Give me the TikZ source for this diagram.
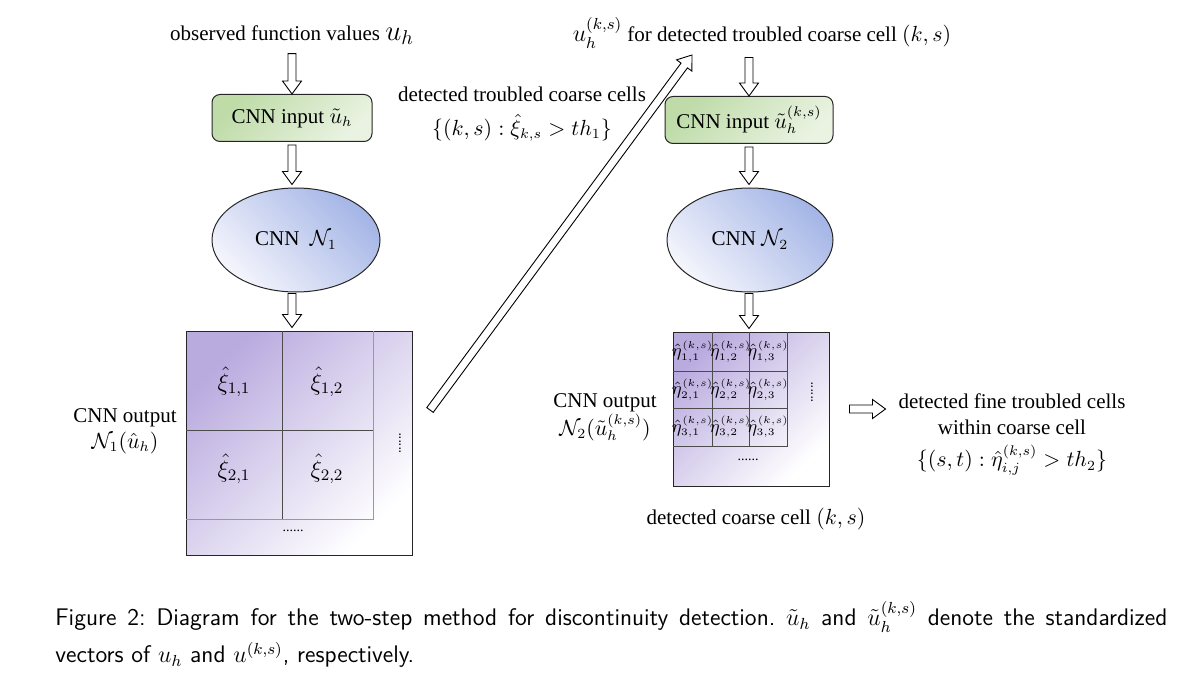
\documentclass[tikz,border=0pt]{standalone}
\usepackage{amsmath,amssymb}
\usepackage{fontspec}
\setmainfont{Liberation Serif}
\usepackage{xcolor}
\usepackage{tikz}
\usetikzlibrary{shapes.geometric, arrows.meta, positioning, calc}

\definecolor{boxgreen}{RGB}{190,219,168}
\definecolor{boxgreenl}{RGB}{234,243,226}
\definecolor{netblue}{RGB}{164,181,230}
\definecolor{netbluel}{RGB}{244,245,252}
\definecolor{outpurple}{RGB}{186,171,223}

\begin{document}
\begin{tikzpicture}[
  x=0.5pt, y=-0.5pt,
  font=\fontsize{10.5}{13}\selectfont,
  inbox/.style={rectangle, rounded corners=4pt, draw=black!85, line width=0.5pt,
                top color=boxgreen, bottom color=boxgreenl, shading angle=45,
                minimum height=23.5pt},
  netell/.style={ellipse, draw=black!85, line width=0.5pt,
                 top color=netblue, bottom color=netbluel, shading angle=-45,
                 minimum height=52pt},
  outsq/.style={rectangle, draw=black!85, line width=0.5pt,
                top color=outpurple, bottom color=white, shading angle=45, inner sep=0pt},
  gridline/.style={draw=black!70, line width=0.4pt},
  softline/.style={draw=black!40, line width=0.4pt},
  cell/.style={inner sep=0pt},
  dots/.style={font=\scriptsize, inner sep=0pt},
  % hollow block arrow drawn as one outline
  hollow/.style={draw=black, fill=white, line width=0.45pt, line join=miter,
    to path={let \p1=(\tikztostart), \p2=(\tikztotarget),
                 \n1={atan2(\y2-\y1,\x2-\x1)}, \n2={veclen(\x2-\x1,\y2-\y1)} in
      ($(\p1)+(\n1+90:2pt)$) -- ($(\p1)+(\n1:\n2-6.5pt)+(\n1+90:2pt)$)
      -- ($(\p1)+(\n1:\n2-6.5pt)+(\n1+90:4.75pt)$) -- (\p2)
      -- ($(\p1)+(\n1:\n2-6.5pt)+(\n1-90:4.75pt)$)
      -- ($(\p1)+(\n1:\n2-6.5pt)+(\n1-90:2pt)$) -- ($(\p1)+(\n1-90:2pt)$) -- cycle}}
]
  \useasboundingbox (0,0) rectangle (1190,674);

  % first step
  \node (obs) at (292,35) {observed function values {\Large$u_h$}};
  \node[inbox, minimum width=80pt] (in1) at (292,118) {CNN input $\tilde{u}_h$};
  \node[netell, minimum width=84pt] (net1) at (296,240) {CNN\ \ $\mathcal{N}_1$};
  \node[outsq, minimum width=113pt, minimum height=112pt] (out1) at (299,443) {};
  \draw[gridline] (282,331) -- (282,519);
  \draw[gridline] (186,430) -- (373,430);
  \draw[softline] (373,331) -- (373,519) -- (186,519);
  \node[cell, font=\large] (xi11) at (234,382) {$\hat{\xi}_{1,1}$};
  \node[cell, font=\large] (xi12) at (327,382) {$\hat{\xi}_{1,2}$};
  \node[cell, font=\large] (xi21) at (234,469) {$\hat{\xi}_{2,1}$};
  \node[cell, font=\large] (xi22) at (327,469) {$\hat{\xi}_{2,2}$};
  \node[dots, rotate=90] (vd1) at (400,443) {......};
  \node[dots] (hd1) at (293,531) {......};
  \node[align=center] (lab1) at (125,431) {CNN output\\$\mathcal{N}_1(\hat{u}_h)$};

  \draw[hollow] ([yshift=-1pt]obs.south -| in1.north) to (in1.north);
  \draw[hollow] ([yshift=-1.5pt]in1.south) to ([yshift=1.5pt]in1.south |- net1.north);
  \draw[hollow] ([yshift=-0.5pt]net1.south -| in1.south) to ([yshift=1.5pt]in1.south |- out1.north);

  % hand over to second step
  \node[align=center] (thr) at (522,114) {detected troubled coarse cells\\[4pt]$\{(k,s):\hat{\xi}_{k,s}>th_1\}$};
  \coordinate (dtail) at (430,410);
  \coordinate (dhead) at (692,55);
  \draw[hollow] (dtail) to (dhead);

  % second step
  \node (sub) at (762,33) {{\large$u_h^{(k,s)}$} for detected troubled coarse cell $(k,s)$};
  \node[inbox, minimum width=84pt] (in2) at (749,120) {CNN input $\tilde{u}_h^{(k,s)}$};
  \node[netell, minimum width=83pt] (net2) at (750,240) {CNN\ $\mathcal{N}_2$};
  \node[outsq, minimum width=78pt, minimum height=77pt] (out2) at (751,409) {};
  \draw[gridline] (712,332) -- (712,446);
  \draw[gridline] (749,332) -- (749,446);
  \draw[gridline] (673,371) -- (787,371);
  \draw[gridline] (673,408) -- (787,408);
  \draw[gridline] (787,332) -- (787,446) -- (673,446);
  \foreach \i/\cy in {1/351.5, 2/389.5, 3/427}
    \foreach \j/\cx in {1/692.5, 2/730.5, 3/768}
      \node[cell, font=\small] (eta\i\j) at (\cx,\cy)
        {$\hat{\eta}^{\kern0.3pt\scriptscriptstyle(k,s)}_{\scriptscriptstyle\i,\j}$};
  \node[dots, rotate=90] (vd2) at (812,392) {......};
  \node[dots] (hd2) at (748,460) {......};
  \node[align=center] (lab2) at (605,417) {CNN output\\$\mathcal{N}_2(\tilde{u}_h^{(k,s)})$};
  \node (detc) at (756,519) {detected coarse cell $(k,s)$};
  \node[align=center] (fine) at (1012,434.5) {detected fine troubled cells\\within coarse cell\\[3pt]$\{(s,t):\hat{\eta}^{(k,s)}_{i,j}> th_2\}$};
  \coordinate (fineL) at ([xshift=-3pt]fine.west |- out2.east);

  \draw[hollow] ([yshift=-1pt]sub.south -| in2.north) to (in2.north);
  \draw[hollow] ([yshift=-1.5pt]in2.south) to ([yshift=1.5pt]in2.south |- net2.north);
  \draw[hollow] ([yshift=-0.5pt]net2.south -| in2.south) to ([yshift=1.5pt]in2.south |- out2.north);
  \draw[hollow] ([xshift=10pt]out2.east) to (fineL);

  % caption
  \node[anchor=west, inner sep=0pt, font=\sffamily\fontsize{12}{14}\selectfont\frenchspacing] (cap1) at (55,617)
    {\makebox[556pt][s]{Figure 2: Diagram for the two-step method for discontinuity detection. $\tilde{u}_h$ and $\tilde{u}_h^{(k,s)}$ denote the standardized}};
  \node[anchor=west, inner sep=0pt, font=\sffamily\fontsize{12}{14}\selectfont] (cap2) at (55,655)
    {vectors of $u_h$ and $u^{(k,s)}$, respectively.};
\end{tikzpicture}
\end{document}
